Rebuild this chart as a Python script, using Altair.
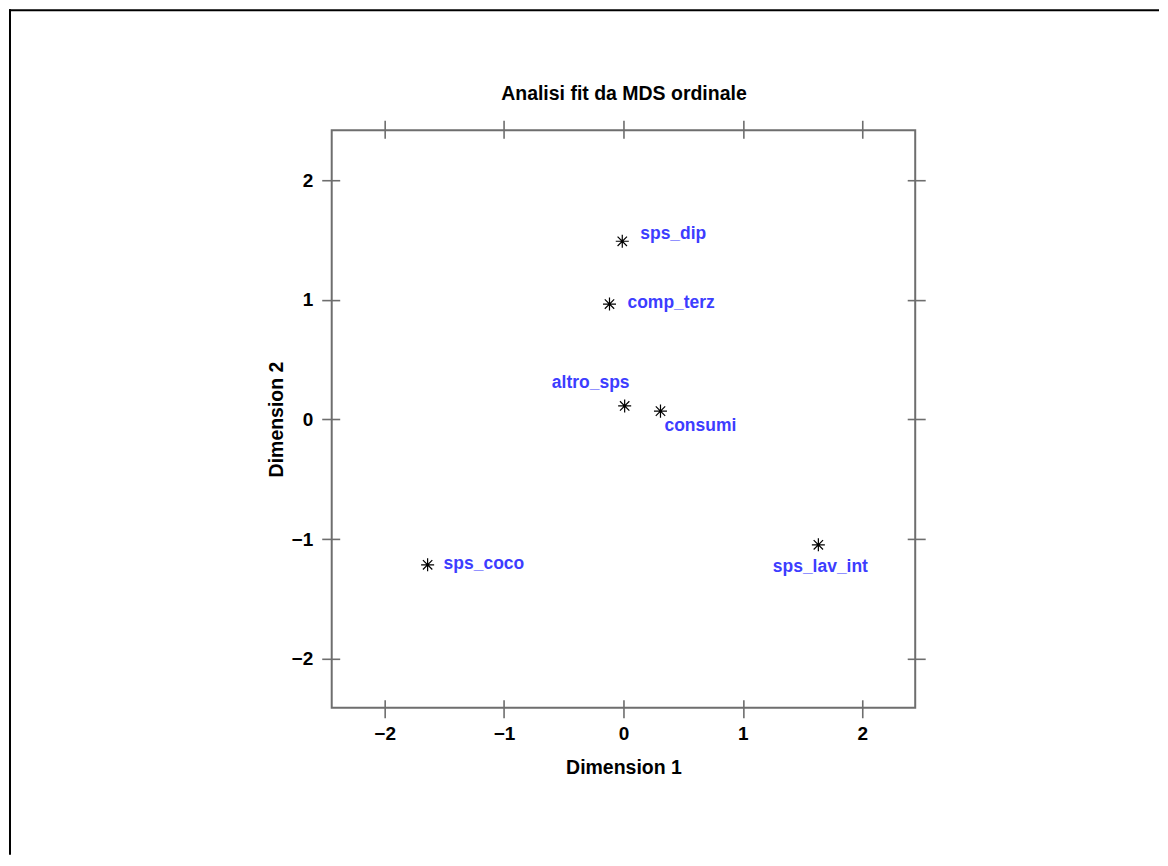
import altair as alt
import pandas as pd

# ---- data ----
labels = ["sps_dip", "comp_terz", "altro_sps", "consumi", "sps_coco", "sps_lav_int"]
dim1 = [-0.01, -0.117, 0.01, 0.31, -1.64, 1.632]
dim2 = [1.49, 0.965, 0.113, 0.07, -1.215, -1.048]
tick_values = [-2, -1, 0, 1, 2]

df = pd.DataFrame({"label": labels, "dim1": dim1, "dim2": dim2})

# label placement styles (align, dx, dy) relative to each point
LABEL_STYLE = {
    "sps_dip": ("left", 18, -7),
    "comp_terz": ("left", 18, -1),
    "altro_sps": ("center", -34, -23),
    "consumi": ("left", 4, 15),
    "sps_coco": ("left", 16, -1),
    "sps_lav_int": ("center", 2, 22),
}

FONT = "Liberation Sans"
BOX = "#6e6e6e"
BLUE = "#3d3dff"

xs = alt.Scale(domain=[-2.443, 2.443], nice=False, zero=False)
ys = alt.Scale(domain=[-2.41, 2.418], nice=False, zero=False)

ASTERISK = "M0,-1L0,1M-1,0L1,0M-0.72,-0.72L0.72,0.72M-0.72,0.72L0.72,-0.72"

base = alt.Chart(df)

points = base.mark_point(
    shape=ASTERISK, size=170, filled=False, stroke="black", strokeWidth=1.2, opacity=1
).encode(
    x=alt.X("dim1:Q", scale=xs,
            axis=alt.Axis(orient="bottom", values=tick_values, title="Dimension 1",
                          labelPadding=7, titlePadding=15)),
    y=alt.Y("dim2:Q", scale=ys,
            axis=alt.Axis(orient="left", values=tick_values, title="Dimension 2",
                          labelPadding=9, titlePadding=5)),
)

# top and right axes (ticks only); the top axis carries the chart title
frame_axes = base.mark_point(opacity=0).encode(
    x=alt.X("dim1:Q", scale=xs,
            axis=alt.Axis(orient="top", values=tick_values, labels=False,
                          title="Analisi fit da MDS ordinale", titlePadding=16)),
    y=alt.Y("dim2:Q", scale=ys,
            axis=alt.Axis(orient="right", values=tick_values, labels=False, title=None)),
)

text_layers = []
for lab in labels:
    al, ddx, ddy = LABEL_STYLE[lab]
    text_layers.append(
        base.transform_filter(alt.datum.label == lab)
        .mark_text(align=al, baseline="middle", dx=ddx, dy=ddy, font=FONT,
                   fontSize=17.5, fontWeight="bold", color=BLUE)
        .encode(x=alt.X("dim1:Q", axis=None), y=alt.Y("dim2:Q", axis=None),
                text="label:N")
    )

# outer page frame (decoration)
one = alt.Chart(pd.DataFrame({"k": [0]}))
frame_top = one.mark_rule(color="black", strokeWidth=2).encode(
    x=alt.value(-323), x2=alt.value(828), y=alt.value(-120)
)
frame_left = one.mark_rule(color="black", strokeWidth=2).encode(
    x=alt.value(-322), y=alt.value(-121), y2=alt.value(725)
)

chart = alt.layer(
    frame_top, frame_left, frame_axes, points, *text_layers
).resolve_axis(
    x="independent", y="independent"
).properties(
    width=584, height=578, padding=0,
).configure(font=FONT).configure_view(
    stroke=BOX, strokeWidth=2
).configure_axis(
    domain=False, grid=False, tickColor=BOX, tickWidth=1.6, tickSize=18, offset=-8,
    labelFont=FONT, labelFontSize=19, labelFontWeight="bold", labelColor="black",
    titleFont=FONT, titleFontSize=19.5, titleFontWeight="bold", titleColor="black",
)

chart.save("out.html", embed_options={"renderer": "svg", "actions": False})
